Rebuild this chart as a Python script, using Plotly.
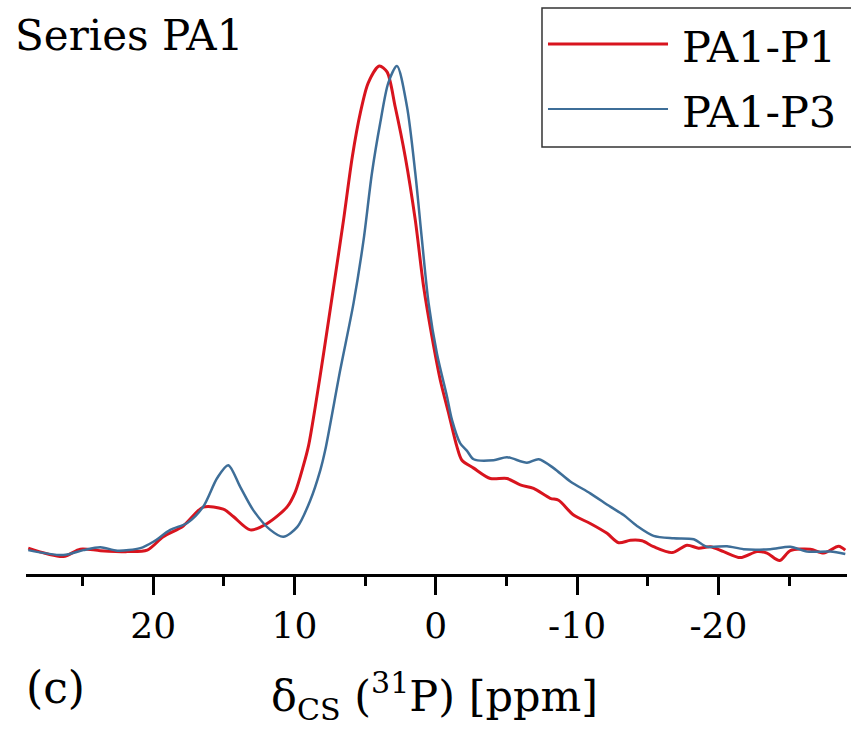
import plotly.graph_objects as go

# Chemical shift (ppm) and normalized intensity
p1_ppm = [28.84, 26.36, 25.16, 23.74, 21.83, 20.42, 19.29, 17.87, 16.46, 15.04,
          14.33, 13.13, 11.93, 10.51, 9.94, 9.38, 9.00, 8.53, 7.94, 7.23,
          6.53, 5.91, 5.34, 4.78, 4.00, 3.45, 2.87, 2.16, 1.45, 0.86,
          0.27, -0.32, -0.91, -1.50, -1.85, -2.68, -3.86, -5.04, -5.98, -6.92,
          -8.10, -8.69, -9.75, -10.93, -12.12, -12.94, -13.77, -14.59, -15.41, -16.72,
          -17.78, -18.60, -19.43, -20.37, -21.55, -22.73, -23.44, -24.33, -25.09, -26.50,
          -27.45, -28.51, -28.98]
p1_int = [0.024, 0.007, 0.022, 0.019, 0.017, 0.020, 0.047, 0.069, 0.107, 0.103,
          0.088, 0.061, 0.074, 0.108, 0.138, 0.190, 0.232, 0.310, 0.418, 0.553,
          0.688, 0.816, 0.905, 0.966, 1.000, 0.988, 0.917, 0.816, 0.688, 0.553,
          0.452, 0.364, 0.297, 0.229, 0.202, 0.186, 0.165, 0.165, 0.152, 0.145,
          0.125, 0.121, 0.091, 0.074, 0.054, 0.035, 0.040, 0.039, 0.027, 0.015,
          0.030, 0.024, 0.027, 0.017, 0.005, 0.017, 0.014, -0.001, 0.019, 0.022,
          0.014, 0.028, 0.020]

p3_ppm = [28.84, 26.36, 24.95, 23.74, 22.54, 20.91, 19.99, 18.79, 17.59, 16.46,
          15.47, 14.69, 13.84, 12.92, 11.71, 10.79, 9.80, 8.88, 8.17, 7.82,
          6.76, 5.82, 5.11, 4.52, 3.93, 3.36, 2.75, 2.04, 1.45, 0.98,
          0.51, -0.08, -0.79, -1.15, -1.73, -2.21, -2.68, -4.09, -5.04, -6.45,
          -7.28, -8.34, -9.52, -10.93, -12.35, -13.29, -14.24, -15.41, -16.83, -18.25,
          -19.19, -20.61, -21.78, -23.67, -25.09, -26.27, -27.92, -28.98]
p3_int = [0.020, 0.010, 0.020, 0.026, 0.019, 0.024, 0.037, 0.061, 0.075, 0.108,
          0.166, 0.192, 0.148, 0.101, 0.061, 0.047, 0.067, 0.121, 0.182, 0.223,
          0.385, 0.520, 0.648, 0.783, 0.885, 0.966, 1.000, 0.918, 0.783, 0.648,
          0.520, 0.418, 0.331, 0.283, 0.236, 0.221, 0.204, 0.202, 0.208, 0.197,
          0.204, 0.186, 0.159, 0.135, 0.108, 0.091, 0.069, 0.049, 0.044, 0.042,
          0.027, 0.028, 0.022, 0.022, 0.027, 0.017, 0.017, 0.012]

series_names = ["PA1-P1", "PA1-P3"]
tick_vals = [20, 10, 0, -10, -20]
tick_text = ["20", "10", "0", "-10", "-20"]

RED = "#d8141e"
BLUE = "#3e6e98"
FONT = "DejaVu Serif"

fig = go.Figure()
fig.add_trace(go.Scatter(x=p1_ppm, y=p1_int, mode="lines", name=series_names[0],
                         line=dict(color=RED, width=3, shape="spline", smoothing=0.8),
                         showlegend=False))
fig.add_trace(go.Scatter(x=p3_ppm, y=p3_int, mode="lines", name=series_names[1],
                         line=dict(color=BLUE, width=2.5, shape="spline", smoothing=0.8),
                         showlegend=False))

fig.update_layout(
    width=851, height=731,
    margin=dict(l=26, r=4, t=0, b=157),
    paper_bgcolor="white", plot_bgcolor="white",
    font=dict(family=FONT, color="black"),
    xaxis=dict(range=[29.0, -29.1], showgrid=False, zeroline=False,
               showline=True, linecolor="black", linewidth=3,
               tickmode="array", tickvals=tick_vals, ticktext=tick_text,
               ticks="outside", ticklen=18, tickwidth=3, tickcolor="black",
               tickfont=dict(family=FONT, size=36, color="black"),
               minor=dict(tickmode="linear", tick0=25, dtick=10, ticks="outside",
                          ticklen=9, tickwidth=3, tickcolor="black")),
    yaxis=dict(range=[-0.0283, 1.1336], visible=False),
)

# legend box drawn manually (right edge runs off the canvas as in the reference)
fig.add_shape(type="rect", xref="paper", yref="paper",
              x0=0.6285, x1=1.012, y0=0.744, y1=0.986,
              line=dict(color="#333333", width=1.5), fillcolor="rgba(0,0,0,0)")
fig.add_shape(type="line", xref="paper", yref="paper",
              x0=0.6358, x1=0.782, y0=0.9233, y1=0.9233,
              line=dict(color=RED, width=3))
fig.add_shape(type="line", xref="paper", yref="paper",
              x0=0.6358, x1=0.782, y0=0.8101, y1=0.8101,
              line=dict(color=BLUE, width=2))
fig.add_annotation(xref="paper", yref="paper", x=0.796, y=0.918,
                   xanchor="left", yanchor="middle", showarrow=False,
                   text=series_names[0], font=dict(family=FONT, size=43, color="black"))
fig.add_annotation(xref="paper", yref="paper", x=0.796, y=0.805,
                   xanchor="left", yanchor="middle", showarrow=False,
                   text=series_names[1], font=dict(family=FONT, size=43, color="black"))

fig.add_annotation(xref="paper", yref="paper", x=-0.016, y=0.938,
                   xanchor="left", yanchor="middle", showarrow=False,
                   text="Series PA1", font=dict(family=FONT, size=42, color="black"))
fig.add_annotation(xref="paper", yref="paper", x=-0.002, y=-0.197,
                   xanchor="left", yanchor="middle", showarrow=False,
                   text="(c)", font=dict(family=FONT, size=44, color="black"))
fig.add_annotation(xref="paper", yref="paper", x=0.498, y=-0.212,
                   xanchor="center", yanchor="middle", showarrow=False,
                   text="δ<sub>CS</sub> (<sup>31</sup>P) [ppm]",
                   font=dict(family=FONT, size=43, color="black"))

fig.write_html("out.html")
